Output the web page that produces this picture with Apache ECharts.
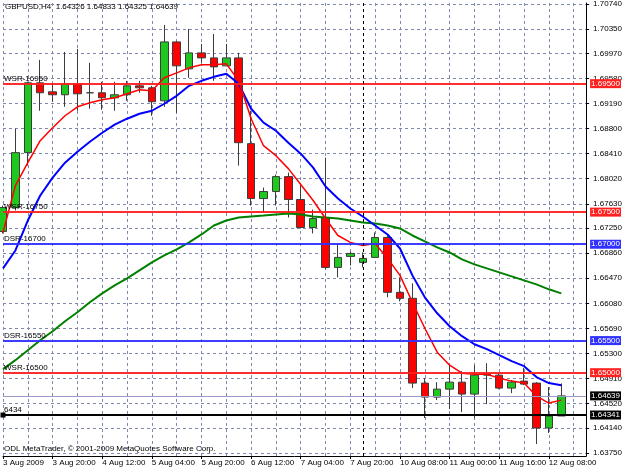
<!DOCTYPE html>
<html>
<head>
<meta charset="utf-8">
<title>GBPUSD,H4</title>
<script src="https://cdn.jsdelivr.net/npm/echarts@6/dist/echarts.min.js"></script>
<style>
    html, body { margin: 0; padding: 0; background: #fff; }
    #chart { width: 625px; height: 469px; }
</style>
</head>
<body>
<div id="chart"></div>
<script>
// H4 bar times (last two slots are empty space on the right)
var times = ['3 Aug 2009', '3 Aug 08:00', '3 Aug 12:00', '3 Aug 16:00', '3 Aug 20:00',
    '4 Aug 00:00', '4 Aug 04:00', '4 Aug 08:00', '4 Aug 12:00', '4 Aug 16:00', '4 Aug 20:00',
    '5 Aug 00:00', '5 Aug 04:00', '5 Aug 08:00', '5 Aug 12:00', '5 Aug 16:00', '5 Aug 20:00',
    '6 Aug 00:00', '6 Aug 04:00', '6 Aug 08:00', '6 Aug 12:00', '6 Aug 16:00', '6 Aug 20:00',
    '7 Aug 00:00', '7 Aug 04:00', '7 Aug 08:00', '7 Aug 12:00', '7 Aug 16:00', '7 Aug 20:00',
    '9 Aug 20:00', '10 Aug 00:00', '10 Aug 04:00', '10 Aug 08:00', '10 Aug 12:00', '10 Aug 16:00', '10 Aug 20:00',
    '11 Aug 00:00', '11 Aug 04:00', '11 Aug 08:00', '11 Aug 12:00', '11 Aug 16:00', '11 Aug 20:00',
    '12 Aug 00:00', '12 Aug 04:00', '12 Aug 08:00', '12 Aug 12:00', '12 Aug 16:00', '12 Aug 20:00']
var weekStart = '9 Aug 20:00'

var opens = [1.67199, 1.67571, 1.68426, 1.69513, 1.69373, 1.69327, 1.69497, 1.69358, 1.69358, 1.69280,
    1.69327, 1.69466, 1.69435, 1.69233, 1.70150, 1.69730, 1.69979, 1.69901, 1.69777, 1.69901,
    1.68566, 1.67711, 1.67820, 1.68053, 1.67696, 1.67261, 1.67416, 1.66639, 1.66810, 1.66717,
    1.66795, 1.67105, 1.66251, 1.66158, 1.64838, 1.64620, 1.64744, 1.64853, 1.64667, 1.64962,
    1.64962, 1.64760, 1.64869, 1.64838, 1.64139, 1.64326]
var closes = [1.67571, 1.68426, 1.69513, 1.69358, 1.69327, 1.69497, 1.69342, 1.69358, 1.69280, 1.69327,
    1.69466, 1.69435, 1.69218, 1.70150, 1.69777, 1.69979, 1.69901, 1.69761, 1.69901, 1.68581,
    1.67711, 1.67820, 1.68053, 1.67696, 1.67261, 1.67401, 1.66639, 1.66795, 1.66857, 1.66779,
    1.67105, 1.66251, 1.66158, 1.64838, 1.64620, 1.64744, 1.64853, 1.64667, 1.64962, 1.64977,
    1.64760, 1.64853, 1.64822, 1.64139, 1.64325, 1.64639]
var lows = [1.67168, 1.67525, 1.68224, 1.69078, 1.69218, 1.69140, 1.69078, 1.69109, 1.69093, 1.69078,
    1.69233, 1.69358, 1.69000, 1.69140, 1.69047, 1.69591, 1.69824, 1.69544, 1.69777, 1.68224,
    1.67602, 1.67494, 1.67602, 1.67416, 1.67245, 1.67168, 1.66608, 1.66484, 1.66670, 1.66639,
    1.66795, 1.66173, 1.66111, 1.64760, 1.64294, 1.64574, 1.64434, 1.64387, 1.64294, 1.64512,
    1.64744, 1.64682, 1.64807, 1.63890, 1.64061, 1.64325]
var highs = [1.67602, 1.68798, 1.69529, 1.69870, 1.69497, 1.69994, 1.70041, 1.69824, 1.69529, 1.69529,
    1.69544, 1.69544, 1.69466, 1.70414, 1.70165, 1.70352, 1.70119, 1.70274, 1.70119, 1.69979,
    1.69078, 1.67882, 1.68084, 1.68115, 1.67913, 1.67540, 1.68348, 1.67012, 1.66888, 1.66873,
    1.67183, 1.67136, 1.66484, 1.66391, 1.64915, 1.64853, 1.65117, 1.65024, 1.65117, 1.65148,
    1.64993, 1.64884, 1.65071, 1.64853, 1.64775, 1.64833]

// moving averages
var maRed = [1.67183, 1.67913, 1.68270, 1.68612, 1.68814, 1.69000, 1.69140, 1.69202, 1.69249, 1.69280,
    1.69342, 1.69404, 1.69389, 1.69591, 1.69668, 1.69746, 1.69793, 1.69793, 1.69808, 1.69544,
    1.68954, 1.68534, 1.68379, 1.68177, 1.67929, 1.67680, 1.67400, 1.67136, 1.67028, 1.66981,
    1.67012, 1.66779, 1.66515, 1.66096, 1.65692, 1.65319, 1.65117, 1.64993, 1.64977, 1.64977,
    1.64915, 1.64869, 1.64838, 1.64636, 1.64527, 1.64573]
var maBlue = [1.66624, 1.66903, 1.67369, 1.67758, 1.68037, 1.68270, 1.68441, 1.68596, 1.68736, 1.68861,
    1.68954, 1.69031, 1.69078, 1.69187, 1.69311, 1.69466, 1.69544, 1.69606, 1.69653, 1.69497,
    1.69109, 1.68892, 1.68767, 1.68581, 1.68410, 1.68193, 1.67898, 1.67711, 1.67556, 1.67432,
    1.67292, 1.67152, 1.66934, 1.66515, 1.66173, 1.65925, 1.65723, 1.65568, 1.65443, 1.65366,
    1.65272, 1.65179, 1.65102, 1.64931, 1.64838, 1.64806]
var maGreen = [1.65055, 1.65195, 1.65350, 1.65505, 1.65645, 1.65801, 1.65940, 1.66096, 1.66235, 1.66360,
    1.66468, 1.66593, 1.66717, 1.66826, 1.66919, 1.67028, 1.67152, 1.67292, 1.67369, 1.67416,
    1.67432, 1.67447, 1.67463, 1.67478, 1.67463, 1.67432, 1.67416, 1.67400, 1.67369, 1.67338,
    1.67323, 1.67292, 1.67245, 1.67136, 1.67043, 1.66950, 1.66872, 1.66764, 1.66686, 1.66624,
    1.66562, 1.66500, 1.66437, 1.66375, 1.66298, 1.66235]

var priceTicks = [1.63750, 1.64140, 1.64520, 1.64910, 1.65300, 1.65690, 1.66080, 1.66470, 1.66860,
    1.67250, 1.67630, 1.68020, 1.68410, 1.68800, 1.69190, 1.69580, 1.69970, 1.70350, 1.70740]

// support / resistance levels
var levelNames = ['WSR-16950', 'WSR-16750', 'DSR-16700', 'DSR-16550', 'WSR-16500']
var levelPrices = [1.6950, 1.6750, 1.6700, 1.6550, 1.6500]
var hLineName = '6434'
var hLinePrice = 1.64341
var bidPrice = 1.64639

var titleText = 'GBPUSD,H4  1.64326 1.64833 1.64325 1.64639'
var copyText = 'ODL MetaTrader, \u00a9 2001-2009 MetaQuotes Software Corp.'

var FONT = 'Liberation Sans'
var gridColor = '#8088b0'

var candles = opens.map(function (o, i) {
    return [o, closes[i], lows[i], highs[i]]
})

var levelLines = []
levelNames.forEach(function (name, i) {
    var c = name.indexOf('WSR') === 0 ? '#ff2020' : '#3030ff'
    levelLines.push({
        yAxis: levelPrices[i],
        lineStyle: { color: c, width: 1.5, type: 'solid' },
        label: {
            show: true, position: 'insideStartTop', formatter: name, distance: 1,
            color: '#000', fontSize: 8, fontFamily: FONT,
        },
    })
    levelLines.push({
        yAxis: levelPrices[i],
        lineStyle: { color: c, width: 1.5, type: 'solid' },
        label: {
            show: true, position: 'end', formatter: levelPrices[i].toFixed(5), distance: 4,
            color: '#fff', backgroundColor: c, padding: [1, 1, 0, 1],
            fontSize: 8, fontFamily: FONT,
        },
    })
})
levelLines.push({
    yAxis: bidPrice,
    lineStyle: { color: '#9a9ac8', width: 1, type: 'solid' },
    label: {
        show: true, position: 'end', formatter: bidPrice.toFixed(5), distance: 4,
        color: '#fff', backgroundColor: '#000', padding: [1, 1, 0, 1],
        fontSize: 8, fontFamily: FONT,
    },
})
levelLines.push({
    yAxis: hLinePrice,
    symbol: ['emptyRect', 'emptyRect'],
    symbolSize: 5,
    lineStyle: { color: '#000', width: 2, type: 'solid' },
    label: {
        show: true, position: 'insideStartTop', formatter: hLineName, distance: 1,
        color: '#000', fontSize: 8, fontFamily: FONT,
    },
})
levelLines.push({
    yAxis: hLinePrice,
    lineStyle: { color: '#000', width: 2, type: 'solid' },
    label: {
        show: true, position: 'end', formatter: hLinePrice.toFixed(5), distance: 4,
        color: '#fff', backgroundColor: '#000', padding: [1, 1, 0, 1],
        fontSize: 8, fontFamily: FONT,
    },
})
levelLines.push({
    xAxis: weekStart,
    lineStyle: { color: '#000', width: 1, type: [3, 3] },
    label: { show: false },
})

var chart = echarts.init(document.getElementById('chart'), null, { renderer: 'canvas' })

chart.setOption({
    animation: false,
    backgroundColor: '#fff',
    textStyle: { fontFamily: FONT },
    title: [
        {
            text: titleText, left: 5, top: 3, padding: 0,
            textStyle: { fontSize: 8, fontWeight: 'normal', color: '#000', fontFamily: FONT },
        },
        {
            text: copyText, left: 4, top: 445, padding: 0,
            textStyle: { fontSize: 8, fontWeight: 'normal', color: '#000', fontFamily: FONT },
        },
    ],
    grid: { left: 2.5, right: 35, top: 2, bottom: 13 },
    xAxis: {
        type: 'category',
        data: times,
        boundaryGap: false,
        axisLine: { lineStyle: { color: '#000', width: 1 } },
        axisTick: { show: true, interval: 3, length: 3, lineStyle: { color: '#000' } },
        axisLabel: {
            interval: 3, align: 'left', margin: 3, color: '#000',
            fontSize: 8, fontFamily: FONT,
        },
        splitLine: { show: true, interval: 1, lineStyle: { color: gridColor, type: [3, 3], width: 1 } },
    },
    yAxis: {
        type: 'value',
        position: 'right',
        min: 1.63703,
        max: 1.70756,
        scale: true,
        axisLine: { show: true, lineStyle: { color: '#000', width: 1 } },
        axisTick: { show: true, length: 3, customValues: priceTicks, lineStyle: { color: '#000' } },
        axisLabel: {
            customValues: priceTicks, margin: 7, color: '#000', fontSize: 8, fontFamily: FONT,
            formatter: function (v) { return v.toFixed(5) },
        },
        splitLine: { show: true, lineStyle: { color: gridColor, type: [3, 3], width: 1 } },
    },
    series: [
        {
            name: 'levels',
            type: 'line',
            data: [],
            z: 1,
            markLine: {
                silent: true,
                precision: 5,
                symbol: ['none', 'none'],
                animation: false,
                data: levelLines,
            },
        },
        {
            name: 'GBPUSD',
            type: 'candlestick',
            data: candles,
            barWidth: 8,
            z: 2,
            itemStyle: {
                color: '#1ec81e',
                color0: '#ff0000',
                borderColor: '#3c3c3c',
                borderColor0: '#3c3c3c',
                borderWidth: 1,
            },
        },
        {
            name: 'MA slow', type: 'line', data: maGreen, symbol: 'none', z: 3,
            lineStyle: { color: '#008000', width: 2 },
        },
        {
            name: 'MA mid', type: 'line', data: maBlue, symbol: 'none', z: 3,
            lineStyle: { color: '#0000ff', width: 2 },
        },
        {
            name: 'MA fast', type: 'line', data: maRed, symbol: 'none', z: 3,
            lineStyle: { color: '#ff0000', width: 1.5 },
        },
    ],
})
</script>
</body>
</html>
